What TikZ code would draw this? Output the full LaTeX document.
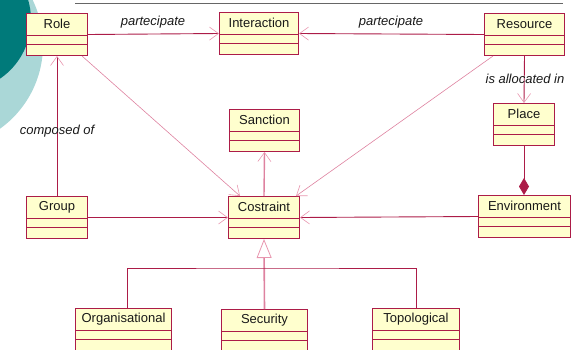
\documentclass[tikz,border=0pt]{standalone}
\usepackage{fontspec}
\setmainfont{Liberation Sans}
\usetikzlibrary{arrows.meta}
\definecolor{tealdark}{RGB}{0,122,122}
\definecolor{teallight}{RGB}{170,215,215}
\definecolor{clsborder}{RGB}{172,28,72}
\definecolor{clsfill}{RGB}{255,255,206}
\definecolor{linedark}{RGB}{172,28,72}
\definecolor{linelight}{RGB}{222,130,160}
\definecolor{tipcol}{RGB}{232,150,175}
\definecolor{txtcol}{RGB}{25,25,25}
\begin{document}
\begin{tikzpicture}[x=1pt,y=-1pt,
  every node/.style={font=\fontsize{13}{15}\selectfont, text=txtcol},
  cls/.style={draw=clsborder, fill=clsfill, line width=1pt, minimum height=42pt,
    inner sep=0pt, anchor=north west, minimum width=#1,
    path picture={
      \draw[clsborder, line width=1pt]
        ([yshift=-22pt]path picture bounding box.north west) -- ([yshift=-22pt]path picture bounding box.north east)
        ([yshift=-31pt]path picture bounding box.north west) -- ([yshift=-31pt]path picture bounding box.north east);
    }},
  clsname/.style={anchor=north, minimum height=22pt, inner sep=0pt},
  assoc/.style={draw=linedark, line width=0.9pt, -{Straight Barb[length=9pt,width=13pt,color=tipcol,line width=0.6pt]}},
  assocl/.style={draw=linelight, line width=0.6pt, -{Straight Barb[length=9pt,width=13pt,color=tipcol,line width=0.6pt]}},
  lbl/.style={font=\fontsize{13}{15}\selectfont\itshape, inner sep=0pt}
]
\useasboundingbox (0,0) rectangle (571,349);
\clip (0,0) rectangle (571,349);
% background decoration
\fill[teallight] (-60,45) circle (103);
\fill[tealdark] (-40,20) circle (71);
\draw[black!60, line width=1pt] (75,3) -- (563,3);

% classes
\node[cls=61pt, label={[clsname]north:Role}] (role) at (26,13) {};
\node[cls=79pt, label={[clsname]north:Interaction}] (interaction) at (219,12) {};
\node[cls=80pt, label={[clsname]north:Resource}] (resource) at (484,13) {};
\node[cls=61pt, label={[clsname]north:Place}] (place) at (493,103) {};
\node[cls=70pt, label={[clsname]north:Sanction}] (sanction) at (229,109) {};
\node[cls=71pt, label={[clsname]north:Costraint}] (costraint) at (228,196) {};
\node[cls=61pt, label={[clsname]north:Group}] (group) at (26,196) {};
\node[cls=92pt, label={[clsname]north:Environment}] (environment) at (478,195) {};
\node[cls=96pt, label={[clsname]north:Organisational}] (organisational) at (75,308) {};
\node[cls=86pt, label={[clsname]north:Security}] (security) at (221,309) {};
\node[cls=87pt, label={[clsname]north:Topological}] (topological) at (372,308) {};

% associations
\draw[assoc] (role.east) -- (interaction.west);
\draw[assoc] (resource.west) -- (interaction.east);
\draw[assoc] (group.north) -- (role.south);
\draw[assoc] (resource.south) -- (place.north);
\draw[assocl] ([xshift=-6pt]role.south east) -- ([xshift=12pt]costraint.north west);
\draw[assocl] ([xshift=9pt]resource.south west) -- ([xshift=-4pt]costraint.north east);
\draw[assocl, line width=1.4pt] (costraint.north) -- (sanction.south);
\draw[assoc] (group.east) -- (costraint.west);
\draw[assoc] (environment.west) -- (costraint.east);
\draw[draw=linedark, line width=0.9pt, -{Diamond[length=17pt,width=10pt,color=linedark,fill=linedark]}]
  (place.south) -- (place.south |- environment.north);

% generalization
\coordinate (gj) at (263.5,268);
\draw[linelight, line width=1.6pt, -{Triangle[open,length=19pt,width=15pt,color=tipcol,fill=white,line width=0.8pt]}]
  (security.north) -- (costraint.south);
\draw[linedark, line width=0.9pt] ([xshift=4pt]organisational.north) |- (gj) -| (topological.north);

% labels
\node[lbl] (l1) at (153,22) {partecipate};
\node[lbl] (l2) at (391,22) {partecipate};
\node[lbl] (l3) at (57,131) {composed of};
\node[lbl] (l4) at (525,79) {is allocated in};
\end{tikzpicture}
\end{document}
